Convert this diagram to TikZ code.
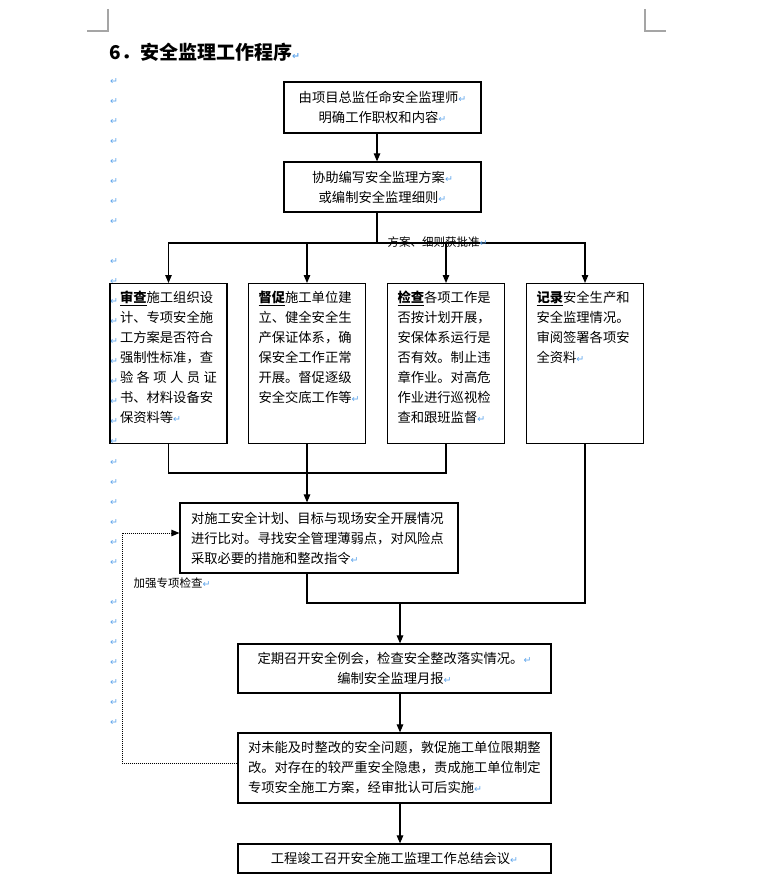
\documentclass[tikz,border=0pt]{standalone}
\usepackage{fontspec}
\setmainfont{Noto Sans CJK SC}
\newfontfamily\markfont{DejaVu Sans}
\usepackage{xcolor}
\usetikzlibrary{arrows.meta}

\definecolor{markblue}{RGB}{95,165,235}
\definecolor{cropgray}{RGB}{165,165,165}
\newcommand{\retmark}{{\markfont\fontsize{9.5}{9.5}\selectfont\color{markblue}↵}}
\newcommand{\leadword}[1]{\underline{\textbf{#1}}}

\begin{document}
\begin{tikzpicture}[x=1pt, y=-1pt, line width=1.1pt,
  >={Triangle[length=8pt,width=6.5pt]},
  box/.style={draw, line width=1.2pt, inner sep=0pt, font=\fontsize{13.3}{20}\selectfont},
  midbox/.style={box, align=center},
  textbox/.style={box, align=left, inner xsep=10pt},
  colbox/.style={box, anchor=north, text width=97pt, align=left, inner xsep=10pt,
    text height=19pt, text depth=141pt},
  note/.style={inner sep=0pt, font=\fontsize{11.5}{12}\selectfont},
  retnode/.style={inner sep=0pt}]
  \useasboundingbox (0,0) rectangle (760,890);

  % page corners
  \draw[cropgray, line width=2pt] (108,9) -- (108,31) -- (87,31);
  \draw[cropgray, line width=2pt] (645,9) -- (645,31) -- (666,31);

  % title
  \node[anchor=west, inner sep=0pt, font=\fontsize{19}{19}\selectfont\bfseries] (title) at (109,52)
    {6．安全监理工作程序\retmark};

  % empty paragraphs in the margin
  \foreach \y in {82,102,...,222} \node[retnode] at (114,\y) {\retmark};
  \foreach \y in {262,282,...,442} \node[retnode] at (114,\y) {\retmark};
  \foreach \y in {463,483,...,563} \node[retnode] at (114,\y) {\retmark};
  \foreach \y in {603,623,...,723} \node[retnode] at (114,\y) {\retmark};

  % main steps
  \node[midbox, minimum width=197pt, minimum height=51pt] (appoint) at (382.5,107.5)
    {由项目总监任命安全监理师\retmark\\明确工作职权和内容\retmark};
  \node[midbox, minimum width=197pt, minimum height=50pt] (plan) at (382.5,187)
    {协助编写安全监理方案\retmark\\或编制安全监理细则\retmark};

  \node[colbox] (review) at (168.5,283)
    {\leadword{审查}施工组织设\\计、专项安全施\\工方案是否符合\\强制性标准，查\\
     \makebox[\linewidth][s]{验\hfill 各\hfill 项\hfill 人\hfill 员\hfill 证}\\书、材料设备安\\保资料等\retmark};
  \node[colbox] (urge) at (307,283)
    {\leadword{督促}施工单位建\\立、健全安全生\\产保证体系，确\\保安全工作正常\\开展。督促逐级\\安全交底工作等\retmark};
  \node[colbox] (inspect) at (446,283)
    {\leadword{检查}各项工作是\\否按计划开展，\\安保体系运行是\\否有效。制止违\\章作业。对高危\\作业进行巡视检\\查和跟班监督\retmark};
  \node[colbox] (record) at (585,283)
    {\leadword{记录}安全生产和\\安全监理情况。\\审阅签署各项安\\全资料\retmark};

  \node[textbox, text width=256pt, inner xsep=11pt, minimum height=70pt] (compare) at (319,538)
    {对施工安全计划、目标与现场安全开展情况\\进行比对。寻找安全管理薄弱点，对风险点\\采取必要的措施和整改指令\retmark};
  \node[midbox, minimum width=313pt, minimum height=49pt] (meeting) at (394.5,668.5)
    {定期召开安全例会，检查安全整改落实情况。\retmark\\编制安全监理月报\retmark};
  \node[textbox, text width=293pt, minimum height=70pt] (rectify) at (394.5,768)
    {对未能及时整改的安全问题，敦促施工单位限期整\\改。对存在的较严重安全隐患，责成施工单位制定\\专项安全施工方案，经审批认可后实施\retmark};
  \node[midbox, minimum width=313pt, minimum height=29pt] (summary) at (394.5,858.5)
    {工程竣工召开安全施工监理工作总结会议\retmark};

  % junctions
  \coordinate (split) at (377,243);
  \coordinate (gather) at (307,473);
  \coordinate (merge) at (400,603);
  \coordinate (loop) at (122,533);

  % connectors
  \draw[->] ([xshift=-5.5pt]appoint.south) -- ([xshift=-5.5pt]plan.north);
  \draw ([xshift=-5.5pt]plan.south) -- (split);
  \foreach \n in {review,urge,inspect,record}
    \draw[->] (split) -| (\n.north);
  \draw (review.south) |- (gather) -| (inspect.south);
  \draw[->] (urge.south) -- (urge.south |- compare.north);
  \draw (urge.south |- compare.south) |- (merge) -| (record.south);
  \draw[->] (merge) -- (merge |- meeting.north);
  \draw[->] (merge |- meeting.south) -- (merge |- rectify.north);
  \draw[->] (merge |- rectify.south) -- (merge |- summary.north);
  \draw[->, line width=1pt, dash pattern=on 1pt off 1pt]
    ([yshift=5pt]rectify.west) -| (loop) -- ([yshift=5pt]compare.west);

  % labels
  \node[note, anchor=west] (approved) at (387,242) {方案、细则获批准\retmark};
  \node[note, anchor=west] (strengthen) at (133,583) {加强专项检查\retmark};
\end{tikzpicture}
\end{document}
